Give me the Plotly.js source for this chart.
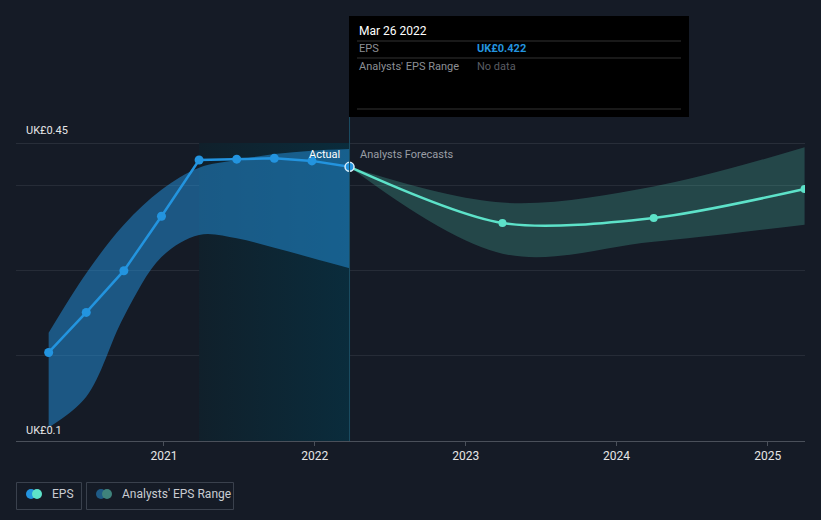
<!DOCTYPE html>
<html>
<head>
<meta charset="utf-8">
<script src="https://cdn.plot.ly/plotly-3.0.1.min.js"></script>
<style>
html,body{margin:0;padding:0;background:#151b26;}
#chart{width:821px;height:520px;}
</style>
</head>
<body>
<div id="chart"></div>
<script>
// ---- Data ----
var actualDates = ['2020-03-28','2020-06-27','2020-09-26','2020-12-26','2021-03-27','2021-06-26','2021-09-25','2021-12-25','2022-03-26'];
var actualEPS   = [0.204, 0.251, 0.300, 0.364, 0.430, 0.431, 0.432, 0.429, 0.422];
var histRangeHigh = [0.227, 0.297, 0.354, 0.395, 0.421, 0.430, 0.437, 0.441, 0.443];
var histRangeLow  = [0.116, 0.152, 0.246, 0.316, 0.342, 0.338, 0.327, 0.315, 0.303];

var forecastDates = ['2022-03-26','2023-03-31','2024-03-31','2025-03-31'];
var forecastEPS   = [0.422, 0.356, 0.362, 0.396];
var forecastHigh  = [0.422, 0.380, 0.399, 0.445];
var forecastLow   = [0.422, 0.320, 0.334, 0.354];

var yearTicks  = ['2021-01-01','2022-01-01','2023-01-01','2024-01-01','2025-01-01'];
var yearLabels = ['2021','2022','2023','2024','2025'];
var yMin = 0.1, yMax = 0.45;
var yTopLabel = 'UK£0.45', yBottomLabel = 'UK£0.1';

var tooltipDate = 'Mar 26 2022';
var tooltipEPS = 'UK£0.422';

var BLUE = '#2394df', MINT = '#5de2c9';
var lastDate = actualDates[actualDates.length-1];
var hlStart = actualDates[4];

// ---- Traces ----
var traces = [
  { // last-year highlight
    x:[hlStart,lastDate,lastDate,hlStart,hlStart],
    y:[yMin,yMin,yMax,yMax,yMin],
    mode:'lines', line:{width:0}, fill:'toself',
    fillcolor:'#0c2634',
    fillgradient:{type:'horizontal', colorscale:[[0,'#10202b'],[1,'#0a2c3c']]},
    hoverinfo:'skip', showlegend:false
  },
  { x:actualDates, y:histRangeHigh, mode:'lines', line:{width:0, shape:'spline', smoothing:1}, hoverinfo:'skip', showlegend:false },
  { x:actualDates, y:histRangeLow, mode:'lines', line:{width:0, shape:'spline', smoothing:1}, fill:'tonexty', fillcolor:'rgba(35,148,223,0.5)', hoverinfo:'skip', showlegend:false },
  { x:forecastDates, y:forecastHigh, mode:'lines', line:{width:0, shape:'spline', smoothing:1}, hoverinfo:'skip', showlegend:false },
  { x:forecastDates, y:forecastLow, mode:'lines', line:{width:0, shape:'spline', smoothing:1}, fill:'tonexty', fillcolor:'rgba(93,226,200,0.22)', hoverinfo:'skip', showlegend:false },
  { x:forecastDates, y:forecastEPS, mode:'lines+markers', line:{color:MINT, width:2.5, shape:'spline', smoothing:0.85}, marker:{color:MINT, size:8}, hoverinfo:'skip', showlegend:false },
  { x:actualDates, y:actualEPS, mode:'lines+markers', line:{color:BLUE, width:2.5}, marker:{color:BLUE, size:9}, hoverinfo:'skip', showlegend:false },
  { x:[lastDate], y:[actualEPS[actualEPS.length-1]], mode:'markers', marker:{color:BLUE, size:9, line:{color:'#d8ecf8', width:1.5}}, hoverinfo:'skip', showlegend:false }
];

// pixel -> paper helpers (plot area 16..805 x 143..441)
function px(x){ return (x-16)/789; }
function py(y){ return (441-y)/298; }

var shapes = [
  {type:'line', xref:'paper', yref:'y', x0:0, x1:1, y0:yMax, y1:yMax, line:{color:'#3c424c', width:1}, layer:'below'},
  // tooltip
  {type:'line', xref:'x', yref:'paper', x0:lastDate, x1:lastDate, y0:0, y1:py(117), line:{color:'#1b4d63', width:1}},
  {type:'rect', xref:'paper', yref:'paper', x0:px(349), x1:px(689), y0:py(117), y1:py(16), fillcolor:'#000000', line:{width:0}},
  {type:'line', xref:'paper', yref:'paper', x0:px(357), x1:px(681), y0:py(41), y1:py(41), line:{color:'#333333', width:1}},
  {type:'line', xref:'paper', yref:'paper', x0:px(357), x1:px(681), y0:py(58), y1:py(58), line:{color:'#333333', width:1}},
  {type:'line', xref:'paper', yref:'paper', x0:px(357), x1:px(681), y0:py(109), y1:py(109), line:{color:'#333333', width:1}},
  // legend boxes
  {type:'rect', xref:'paper', yref:'paper', x0:px(16.5), x1:px(81.5), y0:py(509.5), y1:py(482.5), line:{color:'#3a414d', width:1}, fillcolor:'rgba(0,0,0,0)'},
  {type:'rect', xref:'paper', yref:'paper', x0:px(86.5), x1:px(233.5), y0:py(509.5), y1:py(482.5), line:{color:'#3a414d', width:1}, fillcolor:'rgba(0,0,0,0)'}
];
function dot(cx, color){
  return {type:'circle', xref:'paper', yref:'paper', xsizemode:'pixel', ysizemode:'pixel',
    xanchor:px(cx), yanchor:py(494), x0:-5, x1:5, y0:-5, y1:5, fillcolor:color, line:{width:0}};
}
shapes.push(dot(31, BLUE), dot(37, MINT), dot(101, '#1f5b86'), dot(107, '#3f837c'));

var F = 'Roboto, "Open Sans", sans-serif';
function ann(text, x, y, opts){
  var a = {text:text, xref:'paper', yref:'paper', x:px(x), y:py(y), xanchor:'left', yanchor:'middle', showarrow:false, font:{family:F, size:12, color:'#e6e6e6'}};
  for (var k in opts) a[k]=opts[k];
  return a;
}
var annotations = [
  ann(yTopLabel, 24, 130, {font:{family:F, size:11, color:'#e6e6e6'}}),
  ann(yBottomLabel, 24, 430, {font:{family:F, size:11, color:'#e6e6e6'}}),
  {text:'Actual', xref:'x', yref:'paper', x:lastDate, xshift:-8, y:py(154), xanchor:'right', yanchor:'middle', showarrow:false, font:{family:F, size:11, color:'#ffffff'}},
  {text:'Analysts Forecasts', xref:'x', yref:'paper', x:lastDate, xshift:8, y:py(154), xanchor:'left', yanchor:'middle', showarrow:false, font:{family:F, size:11, color:'#9a9ea5'}},
  ann(tooltipDate, 357, 31, {font:{family:F, size:12, color:'#ffffff'}}),
  ann('EPS', 357, 49, {font:{family:F, size:11, color:'#8c8f95'}}),
  ann('<b>'+tooltipEPS+'</b>', 475, 49, {font:{family:F, size:11, color:BLUE}}),
  ann("Analysts' EPS Range", 357, 66, {font:{family:F, size:11, color:'#8c8f95'}}),
  ann('No data', 475, 66, {font:{family:F, size:11, color:'#5a5d63'}}),
  ann('EPS', 50, 494, {font:{family:F, size:12, color:'#c9ccd1'}}),
  ann("Analysts' EPS Range", 120, 494, {font:{family:F, size:12, color:'#c9ccd1'}})
];

var layout = {
  width:821, height:520,
  margin:{l:16, r:16, t:143, b:79, pad:0},
  paper_bgcolor:'#151b26', plot_bgcolor:'#151b26',
  showlegend:false,
  xaxis:{type:'date', range:['2020-01-09','2025-04-01'], tickvals:yearTicks, ticktext:yearLabels,
    showgrid:false, zeroline:false, showline:true, linecolor:'#4a505a', linewidth:1,
    ticks:'outside', ticklen:4, tickcolor:'#4a505a', tickfont:{family:F, size:12, color:'#e6e6e6'}, fixedrange:true},
  yaxis:{range:[yMin, yMax], tickvals:[0.2,0.3,0.4], showticklabels:false, showgrid:true, gridcolor:'#262c37', gridwidth:1,
    zeroline:false, showline:false, ticks:'', fixedrange:true},
  shapes:shapes, annotations:annotations, hovermode:false
};

Plotly.newPlot('chart', traces, layout, {displayModeBar:false, staticPlot:true});
</script>
</body>
</html>
